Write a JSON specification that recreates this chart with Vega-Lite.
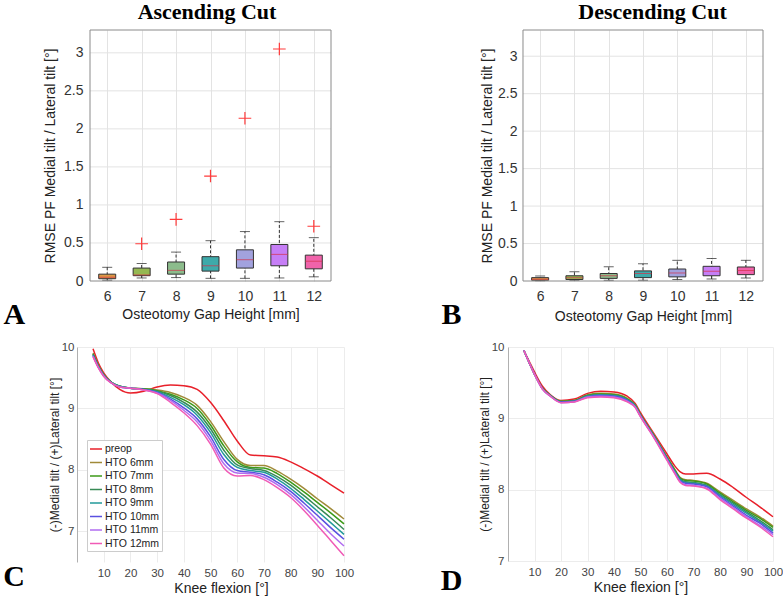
{
  "$schema": "https://vega.github.io/schema/vega-lite/v6.json",
  "background": "white",
  "padding": {"left": 3, "top": 0, "right": 0, "bottom": 0},
  "config": {
    "font": "Liberation Sans",
    "view": {"stroke": null},
    "axis": {"labelColor": "#333333", "titleColor": "#222222", "titleFontWeight": "normal", "gridColor": "#e3e3e3", "domain": false, "ticks": false, "labelOverlap": false, "tickCount": 20},
    "title": {"font": "Liberation Serif", "fontSize": 22, "fontWeight": "bold", "color": "#000000", "frame": "group", "anchor": "middle"}
  },
  "datasets": {
    "boxes": [
      {"panel": "A", "gap": 6, "lo": 0.01, "q1": 0.03, "med": 0.05, "q3": 0.09, "hi": 0.18},
      {"panel": "A", "gap": 7, "lo": 0.04, "q1": 0.07, "med": 0.08, "q3": 0.17, "hi": 0.23},
      {"panel": "A", "gap": 8, "lo": 0.045, "q1": 0.09, "med": 0.14, "q3": 0.25, "hi": 0.38},
      {"panel": "A", "gap": 9, "lo": 0.035, "q1": 0.13, "med": 0.2, "q3": 0.32, "hi": 0.53},
      {"panel": "A", "gap": 10, "lo": 0.035, "q1": 0.17, "med": 0.28, "q3": 0.41, "hi": 0.65},
      {"panel": "A", "gap": 11, "lo": 0.04, "q1": 0.2, "med": 0.35, "q3": 0.48, "hi": 0.78},
      {"panel": "A", "gap": 12, "lo": 0.055, "q1": 0.16, "med": 0.26, "q3": 0.34, "hi": 0.57},
      {"panel": "B", "gap": 6, "lo": 0.005, "q1": 0.01, "med": 0.025, "q3": 0.045, "hi": 0.067},
      {"panel": "B", "gap": 7, "lo": 0.01, "q1": 0.02, "med": 0.045, "q3": 0.07, "hi": 0.125},
      {"panel": "B", "gap": 8, "lo": 0.01, "q1": 0.035, "med": 0.07, "q3": 0.1, "hi": 0.19},
      {"panel": "B", "gap": 9, "lo": 0.01, "q1": 0.045, "med": 0.1, "q3": 0.135, "hi": 0.23},
      {"panel": "B", "gap": 10, "lo": 0.02, "q1": 0.055, "med": 0.107, "q3": 0.16, "hi": 0.276},
      {"panel": "B", "gap": 11, "lo": 0.027, "q1": 0.07, "med": 0.13, "q3": 0.196, "hi": 0.3},
      {"panel": "B", "gap": 12, "lo": 0.04, "q1": 0.085, "med": 0.14, "q3": 0.187, "hi": 0.276}
    ],
    "outliers": [
      {"panel": "A", "gap": 7, "val": 0.49},
      {"panel": "A", "gap": 8, "val": 0.81},
      {"panel": "A", "gap": 9, "val": 1.38},
      {"panel": "A", "gap": 10, "val": 2.14},
      {"panel": "A", "gap": 11, "val": 3.05},
      {"panel": "A", "gap": 12, "val": 0.72}
    ],
    "gridlines": [
      {"g": 0.5}, {"g": 1}, {"g": 1.5}, {"g": 2}, {"g": 2.5}, {"g": 3}
    ],
    "lines": [
      {"p":"C","s":"preop","x":6,"y":9.97},{"p":"C","s":"preop","x":8,"y":9.74},{"p":"C","s":"preop","x":10,"y":9.58},{"p":"C","s":"preop","x":13,"y":9.42},{"p":"C","s":"preop","x":16,"y":9.31},{"p":"C","s":"preop","x":20,"y":9.25},{"p":"C","s":"preop","x":25,"y":9.28},{"p":"C","s":"preop","x":30,"y":9.35},{"p":"C","s":"preop","x":35,"y":9.38},{"p":"C","s":"preop","x":40,"y":9.37},{"p":"C","s":"preop","x":45,"y":9.31},{"p":"C","s":"preop","x":50,"y":9.10},{"p":"C","s":"preop","x":55,"y":8.80},{"p":"C","s":"preop","x":60,"y":8.47},{"p":"C","s":"preop","x":65,"y":8.24},{"p":"C","s":"preop","x":70,"y":8.23},{"p":"C","s":"preop","x":75,"y":8.21},{"p":"C","s":"preop","x":80,"y":8.13},{"p":"C","s":"preop","x":85,"y":8.02},{"p":"C","s":"preop","x":90,"y":7.90},{"p":"C","s":"preop","x":95,"y":7.76},{"p":"C","s":"preop","x":100,"y":7.62},
      {"p":"C","s":"HTO 6mm","x":6,"y":9.90},{"p":"C","s":"HTO 6mm","x":8,"y":9.70},{"p":"C","s":"HTO 6mm","x":10,"y":9.55},{"p":"C","s":"HTO 6mm","x":13,"y":9.42},{"p":"C","s":"HTO 6mm","x":16,"y":9.36},{"p":"C","s":"HTO 6mm","x":20,"y":9.33},{"p":"C","s":"HTO 6mm","x":25,"y":9.32},{"p":"C","s":"HTO 6mm","x":30,"y":9.30},{"p":"C","s":"HTO 6mm","x":35,"y":9.26},{"p":"C","s":"HTO 6mm","x":40,"y":9.18},{"p":"C","s":"HTO 6mm","x":45,"y":9.05},{"p":"C","s":"HTO 6mm","x":50,"y":8.79},{"p":"C","s":"HTO 6mm","x":55,"y":8.46},{"p":"C","s":"HTO 6mm","x":60,"y":8.17},{"p":"C","s":"HTO 6mm","x":65,"y":8.07},{"p":"C","s":"HTO 6mm","x":70,"y":8.07},{"p":"C","s":"HTO 6mm","x":75,"y":7.98},{"p":"C","s":"HTO 6mm","x":80,"y":7.85},{"p":"C","s":"HTO 6mm","x":85,"y":7.70},{"p":"C","s":"HTO 6mm","x":90,"y":7.53},{"p":"C","s":"HTO 6mm","x":95,"y":7.37},{"p":"C","s":"HTO 6mm","x":100,"y":7.20},
      {"p":"C","s":"HTO 7mm","x":6,"y":9.89},{"p":"C","s":"HTO 7mm","x":8,"y":9.69},{"p":"C","s":"HTO 7mm","x":10,"y":9.55},{"p":"C","s":"HTO 7mm","x":13,"y":9.42},{"p":"C","s":"HTO 7mm","x":16,"y":9.36},{"p":"C","s":"HTO 7mm","x":20,"y":9.33},{"p":"C","s":"HTO 7mm","x":25,"y":9.32},{"p":"C","s":"HTO 7mm","x":30,"y":9.29},{"p":"C","s":"HTO 7mm","x":35,"y":9.23},{"p":"C","s":"HTO 7mm","x":40,"y":9.14},{"p":"C","s":"HTO 7mm","x":45,"y":9.00},{"p":"C","s":"HTO 7mm","x":50,"y":8.73},{"p":"C","s":"HTO 7mm","x":55,"y":8.39},{"p":"C","s":"HTO 7mm","x":60,"y":8.13},{"p":"C","s":"HTO 7mm","x":65,"y":8.04},{"p":"C","s":"HTO 7mm","x":70,"y":8.03},{"p":"C","s":"HTO 7mm","x":75,"y":7.94},{"p":"C","s":"HTO 7mm","x":80,"y":7.80},{"p":"C","s":"HTO 7mm","x":85,"y":7.64},{"p":"C","s":"HTO 7mm","x":90,"y":7.47},{"p":"C","s":"HTO 7mm","x":95,"y":7.30},{"p":"C","s":"HTO 7mm","x":100,"y":7.12},
      {"p":"C","s":"HTO 8mm","x":6,"y":9.88},{"p":"C","s":"HTO 8mm","x":8,"y":9.69},{"p":"C","s":"HTO 8mm","x":10,"y":9.54},{"p":"C","s":"HTO 8mm","x":13,"y":9.42},{"p":"C","s":"HTO 8mm","x":16,"y":9.36},{"p":"C","s":"HTO 8mm","x":20,"y":9.33},{"p":"C","s":"HTO 8mm","x":25,"y":9.31},{"p":"C","s":"HTO 8mm","x":30,"y":9.28},{"p":"C","s":"HTO 8mm","x":35,"y":9.21},{"p":"C","s":"HTO 8mm","x":40,"y":9.10},{"p":"C","s":"HTO 8mm","x":45,"y":8.94},{"p":"C","s":"HTO 8mm","x":50,"y":8.67},{"p":"C","s":"HTO 8mm","x":55,"y":8.32},{"p":"C","s":"HTO 8mm","x":60,"y":8.08},{"p":"C","s":"HTO 8mm","x":65,"y":8.02},{"p":"C","s":"HTO 8mm","x":70,"y":7.99},{"p":"C","s":"HTO 8mm","x":75,"y":7.89},{"p":"C","s":"HTO 8mm","x":80,"y":7.75},{"p":"C","s":"HTO 8mm","x":85,"y":7.58},{"p":"C","s":"HTO 8mm","x":90,"y":7.40},{"p":"C","s":"HTO 8mm","x":95,"y":7.22},{"p":"C","s":"HTO 8mm","x":100,"y":7.03},
      {"p":"C","s":"HTO 9mm","x":6,"y":9.87},{"p":"C","s":"HTO 9mm","x":8,"y":9.68},{"p":"C","s":"HTO 9mm","x":10,"y":9.54},{"p":"C","s":"HTO 9mm","x":13,"y":9.42},{"p":"C","s":"HTO 9mm","x":16,"y":9.36},{"p":"C","s":"HTO 9mm","x":20,"y":9.33},{"p":"C","s":"HTO 9mm","x":25,"y":9.31},{"p":"C","s":"HTO 9mm","x":30,"y":9.27},{"p":"C","s":"HTO 9mm","x":35,"y":9.18},{"p":"C","s":"HTO 9mm","x":40,"y":9.06},{"p":"C","s":"HTO 9mm","x":45,"y":8.89},{"p":"C","s":"HTO 9mm","x":50,"y":8.61},{"p":"C","s":"HTO 9mm","x":55,"y":8.25},{"p":"C","s":"HTO 9mm","x":60,"y":8.04},{"p":"C","s":"HTO 9mm","x":65,"y":7.99},{"p":"C","s":"HTO 9mm","x":70,"y":7.96},{"p":"C","s":"HTO 9mm","x":75,"y":7.85},{"p":"C","s":"HTO 9mm","x":80,"y":7.70},{"p":"C","s":"HTO 9mm","x":85,"y":7.52},{"p":"C","s":"HTO 9mm","x":90,"y":7.33},{"p":"C","s":"HTO 9mm","x":95,"y":7.14},{"p":"C","s":"HTO 9mm","x":100,"y":6.95},
      {"p":"C","s":"HTO 10mm","x":6,"y":9.86},{"p":"C","s":"HTO 10mm","x":8,"y":9.67},{"p":"C","s":"HTO 10mm","x":10,"y":9.53},{"p":"C","s":"HTO 10mm","x":13,"y":9.41},{"p":"C","s":"HTO 10mm","x":16,"y":9.35},{"p":"C","s":"HTO 10mm","x":20,"y":9.33},{"p":"C","s":"HTO 10mm","x":25,"y":9.31},{"p":"C","s":"HTO 10mm","x":30,"y":9.26},{"p":"C","s":"HTO 10mm","x":35,"y":9.15},{"p":"C","s":"HTO 10mm","x":40,"y":9.01},{"p":"C","s":"HTO 10mm","x":45,"y":8.83},{"p":"C","s":"HTO 10mm","x":50,"y":8.54},{"p":"C","s":"HTO 10mm","x":55,"y":8.17},{"p":"C","s":"HTO 10mm","x":60,"y":7.99},{"p":"C","s":"HTO 10mm","x":65,"y":7.96},{"p":"C","s":"HTO 10mm","x":70,"y":7.92},{"p":"C","s":"HTO 10mm","x":75,"y":7.80},{"p":"C","s":"HTO 10mm","x":80,"y":7.65},{"p":"C","s":"HTO 10mm","x":85,"y":7.46},{"p":"C","s":"HTO 10mm","x":90,"y":7.26},{"p":"C","s":"HTO 10mm","x":95,"y":7.06},{"p":"C","s":"HTO 10mm","x":100,"y":6.87},
      {"p":"C","s":"HTO 11mm","x":6,"y":9.85},{"p":"C","s":"HTO 11mm","x":8,"y":9.67},{"p":"C","s":"HTO 11mm","x":10,"y":9.53},{"p":"C","s":"HTO 11mm","x":13,"y":9.41},{"p":"C","s":"HTO 11mm","x":16,"y":9.35},{"p":"C","s":"HTO 11mm","x":20,"y":9.33},{"p":"C","s":"HTO 11mm","x":25,"y":9.30},{"p":"C","s":"HTO 11mm","x":30,"y":9.25},{"p":"C","s":"HTO 11mm","x":35,"y":9.13},{"p":"C","s":"HTO 11mm","x":40,"y":8.97},{"p":"C","s":"HTO 11mm","x":45,"y":8.78},{"p":"C","s":"HTO 11mm","x":50,"y":8.48},{"p":"C","s":"HTO 11mm","x":55,"y":8.10},{"p":"C","s":"HTO 11mm","x":60,"y":7.95},{"p":"C","s":"HTO 11mm","x":65,"y":7.94},{"p":"C","s":"HTO 11mm","x":70,"y":7.88},{"p":"C","s":"HTO 11mm","x":75,"y":7.76},{"p":"C","s":"HTO 11mm","x":80,"y":7.60},{"p":"C","s":"HTO 11mm","x":85,"y":7.40},{"p":"C","s":"HTO 11mm","x":90,"y":7.18},{"p":"C","s":"HTO 11mm","x":95,"y":6.96},{"p":"C","s":"HTO 11mm","x":100,"y":6.76},
      {"p":"C","s":"HTO 12mm","x":6,"y":9.84},{"p":"C","s":"HTO 12mm","x":8,"y":9.66},{"p":"C","s":"HTO 12mm","x":10,"y":9.52},{"p":"C","s":"HTO 12mm","x":13,"y":9.41},{"p":"C","s":"HTO 12mm","x":16,"y":9.35},{"p":"C","s":"HTO 12mm","x":20,"y":9.33},{"p":"C","s":"HTO 12mm","x":25,"y":9.30},{"p":"C","s":"HTO 12mm","x":30,"y":9.24},{"p":"C","s":"HTO 12mm","x":35,"y":9.10},{"p":"C","s":"HTO 12mm","x":40,"y":8.93},{"p":"C","s":"HTO 12mm","x":45,"y":8.72},{"p":"C","s":"HTO 12mm","x":50,"y":8.42},{"p":"C","s":"HTO 12mm","x":55,"y":8.03},{"p":"C","s":"HTO 12mm","x":60,"y":7.90},{"p":"C","s":"HTO 12mm","x":65,"y":7.91},{"p":"C","s":"HTO 12mm","x":70,"y":7.84},{"p":"C","s":"HTO 12mm","x":75,"y":7.71},{"p":"C","s":"HTO 12mm","x":80,"y":7.55},{"p":"C","s":"HTO 12mm","x":85,"y":7.34},{"p":"C","s":"HTO 12mm","x":90,"y":7.10},{"p":"C","s":"HTO 12mm","x":95,"y":6.85},{"p":"C","s":"HTO 12mm","x":100,"y":6.60},
      {"p":"D","s":"preop","x":6,"y":9.95},{"p":"D","s":"preop","x":8,"y":9.80},{"p":"D","s":"preop","x":10,"y":9.65},{"p":"D","s":"preop","x":13,"y":9.45},{"p":"D","s":"preop","x":16,"y":9.33},{"p":"D","s":"preop","x":20,"y":9.25},{"p":"D","s":"preop","x":25,"y":9.27},{"p":"D","s":"preop","x":30,"y":9.35},{"p":"D","s":"preop","x":35,"y":9.38},{"p":"D","s":"preop","x":40,"y":9.37},{"p":"D","s":"preop","x":45,"y":9.31},{"p":"D","s":"preop","x":48,"y":9.21},{"p":"D","s":"preop","x":50,"y":9.08},{"p":"D","s":"preop","x":55,"y":8.79},{"p":"D","s":"preop","x":60,"y":8.50},{"p":"D","s":"preop","x":63,"y":8.33},{"p":"D","s":"preop","x":65,"y":8.25},{"p":"D","s":"preop","x":67,"y":8.22},{"p":"D","s":"preop","x":70,"y":8.22},{"p":"D","s":"preop","x":75,"y":8.23},{"p":"D","s":"preop","x":80,"y":8.15},{"p":"D","s":"preop","x":85,"y":8.03},{"p":"D","s":"preop","x":90,"y":7.89},{"p":"D","s":"preop","x":95,"y":7.76},{"p":"D","s":"preop","x":100,"y":7.62},
      {"p":"D","s":"HTO 6mm","x":6,"y":9.95},{"p":"D","s":"HTO 6mm","x":8,"y":9.78},{"p":"D","s":"HTO 6mm","x":10,"y":9.62},{"p":"D","s":"HTO 6mm","x":13,"y":9.42},{"p":"D","s":"HTO 6mm","x":16,"y":9.32},{"p":"D","s":"HTO 6mm","x":20,"y":9.24},{"p":"D","s":"HTO 6mm","x":25,"y":9.25},{"p":"D","s":"HTO 6mm","x":30,"y":9.33},{"p":"D","s":"HTO 6mm","x":35,"y":9.35},{"p":"D","s":"HTO 6mm","x":40,"y":9.34},{"p":"D","s":"HTO 6mm","x":45,"y":9.28},{"p":"D","s":"HTO 6mm","x":48,"y":9.19},{"p":"D","s":"HTO 6mm","x":50,"y":9.05},{"p":"D","s":"HTO 6mm","x":55,"y":8.77},{"p":"D","s":"HTO 6mm","x":60,"y":8.46},{"p":"D","s":"HTO 6mm","x":63,"y":8.28},{"p":"D","s":"HTO 6mm","x":65,"y":8.17},{"p":"D","s":"HTO 6mm","x":67,"y":8.14},{"p":"D","s":"HTO 6mm","x":70,"y":8.13},{"p":"D","s":"HTO 6mm","x":75,"y":8.09},{"p":"D","s":"HTO 6mm","x":80,"y":7.97},{"p":"D","s":"HTO 6mm","x":85,"y":7.85},{"p":"D","s":"HTO 6mm","x":90,"y":7.73},{"p":"D","s":"HTO 6mm","x":95,"y":7.62},{"p":"D","s":"HTO 6mm","x":100,"y":7.49},
      {"p":"D","s":"HTO 7mm","x":6,"y":9.95},{"p":"D","s":"HTO 7mm","x":8,"y":9.78},{"p":"D","s":"HTO 7mm","x":10,"y":9.62},{"p":"D","s":"HTO 7mm","x":13,"y":9.42},{"p":"D","s":"HTO 7mm","x":16,"y":9.32},{"p":"D","s":"HTO 7mm","x":20,"y":9.24},{"p":"D","s":"HTO 7mm","x":25,"y":9.25},{"p":"D","s":"HTO 7mm","x":30,"y":9.32},{"p":"D","s":"HTO 7mm","x":35,"y":9.34},{"p":"D","s":"HTO 7mm","x":40,"y":9.33},{"p":"D","s":"HTO 7mm","x":45,"y":9.27},{"p":"D","s":"HTO 7mm","x":48,"y":9.18},{"p":"D","s":"HTO 7mm","x":50,"y":9.05},{"p":"D","s":"HTO 7mm","x":55,"y":8.76},{"p":"D","s":"HTO 7mm","x":60,"y":8.45},{"p":"D","s":"HTO 7mm","x":63,"y":8.27},{"p":"D","s":"HTO 7mm","x":65,"y":8.16},{"p":"D","s":"HTO 7mm","x":67,"y":8.13},{"p":"D","s":"HTO 7mm","x":70,"y":8.12},{"p":"D","s":"HTO 7mm","x":75,"y":8.08},{"p":"D","s":"HTO 7mm","x":80,"y":7.95},{"p":"D","s":"HTO 7mm","x":85,"y":7.83},{"p":"D","s":"HTO 7mm","x":90,"y":7.71},{"p":"D","s":"HTO 7mm","x":95,"y":7.60},{"p":"D","s":"HTO 7mm","x":100,"y":7.47},
      {"p":"D","s":"HTO 8mm","x":6,"y":9.95},{"p":"D","s":"HTO 8mm","x":8,"y":9.78},{"p":"D","s":"HTO 8mm","x":10,"y":9.62},{"p":"D","s":"HTO 8mm","x":13,"y":9.42},{"p":"D","s":"HTO 8mm","x":16,"y":9.32},{"p":"D","s":"HTO 8mm","x":20,"y":9.23},{"p":"D","s":"HTO 8mm","x":25,"y":9.24},{"p":"D","s":"HTO 8mm","x":30,"y":9.32},{"p":"D","s":"HTO 8mm","x":35,"y":9.33},{"p":"D","s":"HTO 8mm","x":40,"y":9.32},{"p":"D","s":"HTO 8mm","x":45,"y":9.26},{"p":"D","s":"HTO 8mm","x":48,"y":9.18},{"p":"D","s":"HTO 8mm","x":50,"y":9.04},{"p":"D","s":"HTO 8mm","x":55,"y":8.76},{"p":"D","s":"HTO 8mm","x":60,"y":8.44},{"p":"D","s":"HTO 8mm","x":63,"y":8.26},{"p":"D","s":"HTO 8mm","x":65,"y":8.15},{"p":"D","s":"HTO 8mm","x":67,"y":8.11},{"p":"D","s":"HTO 8mm","x":70,"y":8.10},{"p":"D","s":"HTO 8mm","x":75,"y":8.06},{"p":"D","s":"HTO 8mm","x":80,"y":7.93},{"p":"D","s":"HTO 8mm","x":85,"y":7.81},{"p":"D","s":"HTO 8mm","x":90,"y":7.69},{"p":"D","s":"HTO 8mm","x":95,"y":7.57},{"p":"D","s":"HTO 8mm","x":100,"y":7.44},
      {"p":"D","s":"HTO 9mm","x":6,"y":9.95},{"p":"D","s":"HTO 9mm","x":8,"y":9.78},{"p":"D","s":"HTO 9mm","x":10,"y":9.62},{"p":"D","s":"HTO 9mm","x":13,"y":9.42},{"p":"D","s":"HTO 9mm","x":16,"y":9.32},{"p":"D","s":"HTO 9mm","x":20,"y":9.23},{"p":"D","s":"HTO 9mm","x":25,"y":9.24},{"p":"D","s":"HTO 9mm","x":30,"y":9.31},{"p":"D","s":"HTO 9mm","x":35,"y":9.33},{"p":"D","s":"HTO 9mm","x":40,"y":9.32},{"p":"D","s":"HTO 9mm","x":45,"y":9.26},{"p":"D","s":"HTO 9mm","x":48,"y":9.17},{"p":"D","s":"HTO 9mm","x":50,"y":9.04},{"p":"D","s":"HTO 9mm","x":55,"y":8.75},{"p":"D","s":"HTO 9mm","x":60,"y":8.44},{"p":"D","s":"HTO 9mm","x":63,"y":8.25},{"p":"D","s":"HTO 9mm","x":65,"y":8.14},{"p":"D","s":"HTO 9mm","x":67,"y":8.10},{"p":"D","s":"HTO 9mm","x":70,"y":8.09},{"p":"D","s":"HTO 9mm","x":75,"y":8.05},{"p":"D","s":"HTO 9mm","x":80,"y":7.92},{"p":"D","s":"HTO 9mm","x":85,"y":7.79},{"p":"D","s":"HTO 9mm","x":90,"y":7.67},{"p":"D","s":"HTO 9mm","x":95,"y":7.55},{"p":"D","s":"HTO 9mm","x":100,"y":7.42},
      {"p":"D","s":"HTO 10mm","x":6,"y":9.95},{"p":"D","s":"HTO 10mm","x":8,"y":9.78},{"p":"D","s":"HTO 10mm","x":10,"y":9.62},{"p":"D","s":"HTO 10mm","x":13,"y":9.41},{"p":"D","s":"HTO 10mm","x":16,"y":9.31},{"p":"D","s":"HTO 10mm","x":20,"y":9.23},{"p":"D","s":"HTO 10mm","x":25,"y":9.24},{"p":"D","s":"HTO 10mm","x":30,"y":9.30},{"p":"D","s":"HTO 10mm","x":35,"y":9.32},{"p":"D","s":"HTO 10mm","x":40,"y":9.31},{"p":"D","s":"HTO 10mm","x":45,"y":9.25},{"p":"D","s":"HTO 10mm","x":48,"y":9.16},{"p":"D","s":"HTO 10mm","x":50,"y":9.03},{"p":"D","s":"HTO 10mm","x":55,"y":8.74},{"p":"D","s":"HTO 10mm","x":60,"y":8.43},{"p":"D","s":"HTO 10mm","x":63,"y":8.24},{"p":"D","s":"HTO 10mm","x":65,"y":8.12},{"p":"D","s":"HTO 10mm","x":67,"y":8.09},{"p":"D","s":"HTO 10mm","x":70,"y":8.08},{"p":"D","s":"HTO 10mm","x":75,"y":8.04},{"p":"D","s":"HTO 10mm","x":80,"y":7.90},{"p":"D","s":"HTO 10mm","x":85,"y":7.77},{"p":"D","s":"HTO 10mm","x":90,"y":7.64},{"p":"D","s":"HTO 10mm","x":95,"y":7.53},{"p":"D","s":"HTO 10mm","x":100,"y":7.39},
      {"p":"D","s":"HTO 11mm","x":6,"y":9.95},{"p":"D","s":"HTO 11mm","x":8,"y":9.78},{"p":"D","s":"HTO 11mm","x":10,"y":9.62},{"p":"D","s":"HTO 11mm","x":13,"y":9.41},{"p":"D","s":"HTO 11mm","x":16,"y":9.31},{"p":"D","s":"HTO 11mm","x":20,"y":9.22},{"p":"D","s":"HTO 11mm","x":25,"y":9.23},{"p":"D","s":"HTO 11mm","x":30,"y":9.30},{"p":"D","s":"HTO 11mm","x":35,"y":9.31},{"p":"D","s":"HTO 11mm","x":40,"y":9.30},{"p":"D","s":"HTO 11mm","x":45,"y":9.24},{"p":"D","s":"HTO 11mm","x":48,"y":9.16},{"p":"D","s":"HTO 11mm","x":50,"y":9.03},{"p":"D","s":"HTO 11mm","x":55,"y":8.74},{"p":"D","s":"HTO 11mm","x":60,"y":8.42},{"p":"D","s":"HTO 11mm","x":63,"y":8.23},{"p":"D","s":"HTO 11mm","x":65,"y":8.11},{"p":"D","s":"HTO 11mm","x":67,"y":8.07},{"p":"D","s":"HTO 11mm","x":70,"y":8.06},{"p":"D","s":"HTO 11mm","x":75,"y":8.02},{"p":"D","s":"HTO 11mm","x":80,"y":7.88},{"p":"D","s":"HTO 11mm","x":85,"y":7.75},{"p":"D","s":"HTO 11mm","x":90,"y":7.62},{"p":"D","s":"HTO 11mm","x":95,"y":7.50},{"p":"D","s":"HTO 11mm","x":100,"y":7.37},
      {"p":"D","s":"HTO 12mm","x":6,"y":9.95},{"p":"D","s":"HTO 12mm","x":8,"y":9.78},{"p":"D","s":"HTO 12mm","x":10,"y":9.62},{"p":"D","s":"HTO 12mm","x":13,"y":9.41},{"p":"D","s":"HTO 12mm","x":16,"y":9.31},{"p":"D","s":"HTO 12mm","x":20,"y":9.22},{"p":"D","s":"HTO 12mm","x":25,"y":9.23},{"p":"D","s":"HTO 12mm","x":30,"y":9.29},{"p":"D","s":"HTO 12mm","x":35,"y":9.30},{"p":"D","s":"HTO 12mm","x":40,"y":9.29},{"p":"D","s":"HTO 12mm","x":45,"y":9.23},{"p":"D","s":"HTO 12mm","x":48,"y":9.15},{"p":"D","s":"HTO 12mm","x":50,"y":9.02},{"p":"D","s":"HTO 12mm","x":55,"y":8.73},{"p":"D","s":"HTO 12mm","x":60,"y":8.41},{"p":"D","s":"HTO 12mm","x":63,"y":8.22},{"p":"D","s":"HTO 12mm","x":65,"y":8.10},{"p":"D","s":"HTO 12mm","x":67,"y":8.06},{"p":"D","s":"HTO 12mm","x":70,"y":8.05},{"p":"D","s":"HTO 12mm","x":75,"y":8.01},{"p":"D","s":"HTO 12mm","x":80,"y":7.86},{"p":"D","s":"HTO 12mm","x":85,"y":7.73},{"p":"D","s":"HTO 12mm","x":90,"y":7.60},{"p":"D","s":"HTO 12mm","x":95,"y":7.48},{"p":"D","s":"HTO 12mm","x":100,"y":7.34}
    ]
  },
  "resolve": {"scale": {"color": "independent"}, "legend": {"color": "independent"}},
  "columns": 2,
  "align": "each",
  "spacing": {"row": 10, "column": 15},
  "concat": [
    {
      "width": 254, "height": 251,
      "title": {"text": "Ascending Cut", "offset": 6, "dx": 3},
      "layer": [
        {
          "data": {"name": "gridlines"},
          "mark": {"type": "rule", "color": "#e3e3e3", "strokeWidth": 1},
          "encoding": {
            "x": {"datum": 5.5, "type": "quantitative", "scale": {"domain": [5.1224, 12.5], "nice": false, "zero": false, "padding": 0},
                  "axis": {"values": [6, 7, 8, 9, 10, 11, 12], "tickCount": 20, "format": "d", "title": "Osteotomy Gap Height [mm]", "titleX": 133.5, "labelFontSize": 14, "titleFontSize": 14, "labelPadding": 8, "titlePadding": 4, "grid": true, "labelOverlap": false, "labelFlush": false}},
            "x2": {"datum": 12.5},
            "y": {"field": "g", "type": "quantitative", "scale": {"domain": [0, 3.3], "nice": false, "zero": false},
                  "axis": {"values": [0, 0.5, 1, 1.5, 2, 2.5, 3], "tickCount": 20, "format": "~g", "title": "RMSE PF Medial tilt / Lateral tilt [°]", "offset": -13, "labelFontSize": 14, "titleFontSize": 14, "labelPadding": 7, "titlePadding": 6, "grid": false, "labelOverlap": false}}
          }
        },
        {
          "data": {"name": "boxes"}, "transform": [{"filter": "datum.panel === 'A'"}],
          "mark": {"type": "rule", "color": "#333333", "strokeDash": [3, 2], "strokeWidth": 1},
          "encoding": {
            "x": {"field": "gap", "type": "quantitative", "title": "Osteotomy Gap Height [mm]"},
            "y": {"field": "lo", "type": "quantitative", "title": "RMSE PF Medial tilt / Lateral tilt [°]"},
            "y2": {"field": "hi"}
          }
        },
        {
          "data": {"name": "boxes"}, "transform": [{"filter": "datum.panel === 'A'"}],
          "mark": {"type": "tick", "orient": "horizontal", "size": 10, "thickness": 1, "color": "#222222"},
          "encoding": {
            "x": {"field": "gap", "type": "quantitative", "title": "Osteotomy Gap Height [mm]"},
            "y": {"field": "lo", "type": "quantitative", "title": "RMSE PF Medial tilt / Lateral tilt [°]"}
          }
        },
        {
          "data": {"name": "boxes"}, "transform": [{"filter": "datum.panel === 'A'"}],
          "mark": {"type": "tick", "orient": "horizontal", "size": 10, "thickness": 1, "color": "#222222"},
          "encoding": {
            "x": {"field": "gap", "type": "quantitative", "title": "Osteotomy Gap Height [mm]"},
            "y": {"field": "hi", "type": "quantitative", "title": "RMSE PF Medial tilt / Lateral tilt [°]"}
          }
        },
        {
          "data": {"name": "boxes"}, "transform": [{"filter": "datum.panel === 'A'"}],
          "mark": {"type": "bar", "size": 17, "stroke": "#333333", "strokeWidth": 1},
          "encoding": {
            "x": {"field": "gap", "type": "quantitative", "title": "Osteotomy Gap Height [mm]"},
            "y": {"field": "q1", "type": "quantitative", "title": "RMSE PF Medial tilt / Lateral tilt [°]"},
            "y2": {"field": "q3"},
            "color": {"field": "gap", "type": "nominal", "legend": null,
                      "scale": {"domain": [6, 7, 8, 9, 10, 11, 12], "range": ["#dc9a45", "#95b852", "#8cbc8c", "#3eaaaa", "#a2a2de", "#c67ef6", "#f063aa"]}}
          }
        },
        {
          "data": {"name": "boxes"}, "transform": [{"filter": "datum.panel === 'A'"}],
          "mark": {"type": "tick", "orient": "horizontal", "size": 17, "thickness": 1, "color": "#d4304a"},
          "encoding": {
            "x": {"field": "gap", "type": "quantitative", "title": "Osteotomy Gap Height [mm]"},
            "y": {"field": "med", "type": "quantitative", "title": "RMSE PF Medial tilt / Lateral tilt [°]"}
          }
        },
        {
          "data": {"name": "outliers"}, "transform": [{"filter": "datum.panel === 'A'"}],
          "mark": {"type": "point", "shape": "M-1,0H1M0,-1V1", "size": 160, "filled": false, "stroke": "#ff3b3b", "strokeWidth": 1.2, "opacity": 1},
          "encoding": {
            "x": {"field": "gap", "type": "quantitative", "title": "Osteotomy Gap Height [mm]"},
            "y": {"field": "val", "type": "quantitative", "title": "RMSE PF Medial tilt / Lateral tilt [°]"}
          }
        },
        {
          "data": {"values": [{"frame": "A"}]},
          "mark": {"type": "rect", "fillOpacity": 0, "stroke": "#8a8a8a", "strokeWidth": 1},
          "encoding": {
            "x": {"datum": 5.5, "type": "quantitative", "title": "Osteotomy Gap Height [mm]"},
            "x2": {"datum": 12.5},
            "y": {"datum": 0, "type": "quantitative", "title": "RMSE PF Medial tilt / Lateral tilt [°]"},
            "y2": {"datum": 3.3}
          }
        },
        {
          "data": {"values": [{"letter": "A"}]},
          "mark": {"type": "text", "font": "Liberation Serif", "fontSize": 30, "fontWeight": "bold", "align": "center", "baseline": "alphabetic", "color": "#000000"},
          "encoding": {
            "x": {"datum": 3.3, "type": "quantitative", "title": "Osteotomy Gap Height [mm]"},
            "y": {"datum": -0.57, "type": "quantitative", "title": "RMSE PF Medial tilt / Lateral tilt [°]"},
            "text": {"field": "letter"}
          }
        },
        {
          "data": {"values": [{"letter": "B"}]},
          "mark": {"type": "text", "font": "Liberation Serif", "fontSize": 30, "fontWeight": "bold", "align": "center", "baseline": "alphabetic", "color": "#000000"},
          "encoding": {
            "x": {"datum": 16.0, "type": "quantitative", "title": "Osteotomy Gap Height [mm]"},
            "y": {"datum": -0.57, "type": "quantitative", "title": "RMSE PF Medial tilt / Lateral tilt [°]"},
            "text": {"field": "letter"}
          }
        }
      ]
    },
    {
      "width": 255, "height": 251,
      "title": {"text": "Descending Cut", "offset": 6, "dx": 17},
      "layer": [
        {
          "data": {"name": "gridlines"},
          "mark": {"type": "rule", "color": "#e3e3e3", "strokeWidth": 1},
          "encoding": {
            "x": {"datum": 5.5, "type": "quantitative", "scale": {"domain": [5.0626, 12.5], "nice": false, "zero": false, "padding": 0},
                  "axis": {"values": [6, 7, 8, 9, 10, 11, 12], "tickCount": 20, "format": "d", "title": "Osteotomy Gap Height [mm]", "titleX": 135, "labelFontSize": 14, "titleFontSize": 14, "labelPadding": 8, "titlePadding": 6, "grid": true, "labelOverlap": false, "labelFlush": false}},
            "x2": {"datum": 12.5},
            "y": {"field": "g", "type": "quantitative", "scale": {"domain": [0, 3.35], "nice": false, "zero": false},
                  "axis": {"values": [0, 0.5, 1, 1.5, 2, 2.5, 3], "tickCount": 20, "format": "~g", "title": "RMSE PF Medial tilt / Lateral tilt [°]", "offset": -15, "labelFontSize": 14, "titleFontSize": 14, "labelPadding": 6, "titlePadding": 3, "grid": false, "labelOverlap": false}}
          }
        },
        {
          "data": {"name": "boxes"}, "transform": [{"filter": "datum.panel === 'B'"}],
          "mark": {"type": "rule", "color": "#333333", "strokeDash": [3, 2], "strokeWidth": 1},
          "encoding": {
            "x": {"field": "gap", "type": "quantitative", "title": "Osteotomy Gap Height [mm]"},
            "y": {"field": "lo", "type": "quantitative", "title": "RMSE PF Medial tilt / Lateral tilt [°]"},
            "y2": {"field": "hi"}
          }
        },
        {
          "data": {"name": "boxes"}, "transform": [{"filter": "datum.panel === 'B'"}],
          "mark": {"type": "tick", "orient": "horizontal", "size": 10, "thickness": 1, "color": "#222222"},
          "encoding": {
            "x": {"field": "gap", "type": "quantitative", "title": "Osteotomy Gap Height [mm]"},
            "y": {"field": "lo", "type": "quantitative", "title": "RMSE PF Medial tilt / Lateral tilt [°]"}
          }
        },
        {
          "data": {"name": "boxes"}, "transform": [{"filter": "datum.panel === 'B'"}],
          "mark": {"type": "tick", "orient": "horizontal", "size": 10, "thickness": 1, "color": "#222222"},
          "encoding": {
            "x": {"field": "gap", "type": "quantitative", "title": "Osteotomy Gap Height [mm]"},
            "y": {"field": "hi", "type": "quantitative", "title": "RMSE PF Medial tilt / Lateral tilt [°]"}
          }
        },
        {
          "data": {"name": "boxes"}, "transform": [{"filter": "datum.panel === 'B'"}],
          "mark": {"type": "bar", "size": 17, "stroke": "#333333", "strokeWidth": 1},
          "encoding": {
            "x": {"field": "gap", "type": "quantitative", "title": "Osteotomy Gap Height [mm]"},
            "y": {"field": "q1", "type": "quantitative", "title": "RMSE PF Medial tilt / Lateral tilt [°]"},
            "y2": {"field": "q3"},
            "color": {"field": "gap", "type": "nominal", "legend": null,
                      "scale": {"domain": [6, 7, 8, 9, 10, 11, 12], "range": ["#dc9a45", "#95b852", "#8cbc8c", "#3eaaaa", "#a2a2de", "#c67ef6", "#f063aa"]}}
          }
        },
        {
          "data": {"name": "boxes"}, "transform": [{"filter": "datum.panel === 'B'"}],
          "mark": {"type": "tick", "orient": "horizontal", "size": 17, "thickness": 1, "color": "#d4304a"},
          "encoding": {
            "x": {"field": "gap", "type": "quantitative", "title": "Osteotomy Gap Height [mm]"},
            "y": {"field": "med", "type": "quantitative", "title": "RMSE PF Medial tilt / Lateral tilt [°]"}
          }
        },
        {
          "data": {"values": [{"frame": "B"}]},
          "mark": {"type": "rect", "fillOpacity": 0, "stroke": "#8a8a8a", "strokeWidth": 1},
          "encoding": {
            "x": {"datum": 5.5, "type": "quantitative", "title": "Osteotomy Gap Height [mm]"},
            "x2": {"datum": 12.5},
            "y": {"datum": 0, "type": "quantitative", "title": "RMSE PF Medial tilt / Lateral tilt [°]"},
            "y2": {"datum": 3.35}
          }
        }
      ]
    },
    {
      "width": 267, "height": 215,
      "layer": [
        {
          "data": {"name": "lines"}, "transform": [{"filter": "datum.p === 'C'"}],
          "mark": {"type": "line", "strokeWidth": 1.5, "interpolate": "monotone"},
          "encoding": {
            "x": {"field": "x", "type": "quantitative", "scale": {"domain": [0, 100], "nice": false, "zero": false},
                  "axis": {"values": [10, 20, 30, 40, 50, 60, 70, 80, 90, 100], "tickCount": 20, "format": "d", "labelOverlap": false, "labelFlush": false, "title": "Knee flexion [°]", "titleX": 144, "labelFontSize": 11.5, "titleFontSize": 14, "labelPadding": 5, "titlePadding": 3, "grid": true, "gridColor": "#ececec", "labelColor": "#444444"}},
            "y": {"field": "y", "type": "quantitative", "scale": {"domain": [6.5, 10], "nice": false, "zero": false},
                  "axis": {"values": [7, 8, 9, 10], "tickCount": 20, "format": "d", "labelOverlap": false, "title": "(-)Medial tilt / (+)Lateral tilt [°]", "labelFontSize": 11.5, "titleFontSize": 12, "labelPadding": 3, "titlePadding": 0, "grid": true, "gridColor": "#ececec", "domain": true, "domainColor": "#b0b0b0", "labelColor": "#444444"}},
            "color": {"field": "s", "type": "nominal",
                      "scale": {"domain": ["preop", "HTO 6mm", "HTO 7mm", "HTO 8mm", "HTO 9mm", "HTO 10mm", "HTO 11mm", "HTO 12mm"], "range": ["#e8202a", "#a08a38", "#3c9a18", "#388a56", "#229a9a", "#5a50e0", "#b06cf0", "#f05ab6"]},
                      "legend": {"orient": "none", "legendX": 10, "legendY": 93, "title": null, "symbolType": "stroke", "symbolSize": 144, "symbolStrokeWidth": 1.5, "labelFontSize": 10.5, "labelColor": "#222222", "fillColor": "#ffffff", "strokeColor": "#cccccc", "padding": 2, "rowPadding": 0.5, "labelOffset": 2}}
          }
        },
        {
          "data": {"values": [{"letter": "C"}]},
          "mark": {"type": "text", "font": "Liberation Serif", "fontSize": 30, "fontWeight": "bold", "align": "center", "baseline": "alphabetic", "color": "#000000"},
          "encoding": {
            "x": {"datum": -23.6, "type": "quantitative", "title": "Knee flexion [°]"},
            "y": {"datum": 6.11, "type": "quantitative", "title": "(-)Medial tilt / (+)Lateral tilt [°]"},
            "text": {"field": "letter"}
          }
        },
        {
          "data": {"values": [{"letter": "D"}]},
          "mark": {"type": "text", "font": "Liberation Serif", "fontSize": 30, "fontWeight": "bold", "align": "center", "baseline": "alphabetic", "color": "#000000"},
          "encoding": {
            "x": {"datum": 140.3, "type": "quantitative", "title": "Knee flexion [°]"},
            "y": {"datum": 6.05, "type": "quantitative", "title": "(-)Medial tilt / (+)Lateral tilt [°]"},
            "text": {"field": "letter"}
          }
        }
      ]
    },
    {
      "width": 265, "height": 214,
      "layer": [
        {
          "data": {"name": "lines"}, "transform": [{"filter": "datum.p === 'D'"}],
          "mark": {"type": "line", "strokeWidth": 1.5, "interpolate": "monotone"},
          "encoding": {
            "x": {"field": "x", "type": "quantitative", "scale": {"domain": [0, 100], "nice": false, "zero": false},
                  "axis": {"values": [10, 20, 30, 40, 50, 60, 70, 80, 90, 100], "tickCount": 20, "format": "d", "labelOverlap": false, "labelFlush": false, "title": "Knee flexion [°]", "labelFontSize": 11.5, "titleFontSize": 14, "labelPadding": 5, "titlePadding": 3, "grid": true, "gridColor": "#ececec", "labelColor": "#444444"}},
            "y": {"field": "y", "type": "quantitative", "scale": {"domain": [7, 10], "nice": false, "zero": false},
                  "axis": {"values": [7, 8, 9, 10], "tickCount": 20, "format": "d", "labelOverlap": false, "title": "(-)Medial tilt / (+)Lateral tilt [°]", "labelFontSize": 11.5, "titleFontSize": 12, "labelPadding": 4, "titlePadding": 0, "grid": true, "gridColor": "#ececec", "domain": true, "domainColor": "#b0b0b0", "labelColor": "#444444"}},
            "color": {"field": "s", "type": "nominal", "legend": null,
                      "scale": {"domain": ["preop", "HTO 6mm", "HTO 7mm", "HTO 8mm", "HTO 9mm", "HTO 10mm", "HTO 11mm", "HTO 12mm"], "range": ["#e8202a", "#a08a38", "#3c9a18", "#388a56", "#229a9a", "#5a50e0", "#b06cf0", "#f05ab6"]}}
          }
        }
      ]
    }
  ]
}
